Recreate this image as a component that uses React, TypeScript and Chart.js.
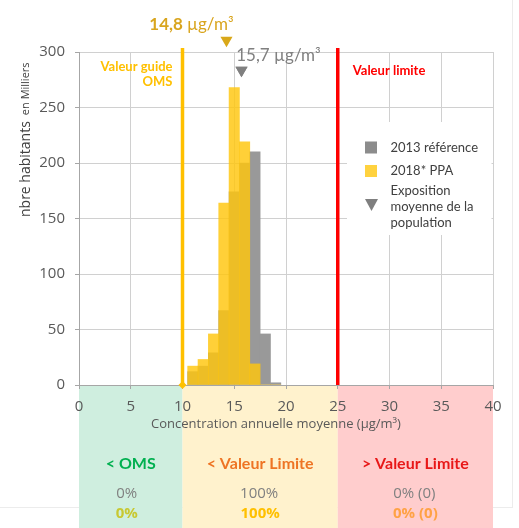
import React, { useEffect, useRef } from 'react';
import { Chart, registerables } from 'chart.js';

Chart.register(...registerables);

// ---- data ----
const BIN_CENTERS = [11, 12, 13, 14, 15, 16, 17, 18, 19];
const POP_2013 = [12, 17, 29, 67, 174, 200, 210, 46, 2];
const POP_2018 = [17, 23, 46, 164, 268, 219, 19, 0, 0];
const SERIES_NAMES = ['2013 référence', '2018* PPA'];
const MEAN_VALUES = ['14,8', '15,7'];
const MEAN_MARKER_X = [14.25, 15.7];
const MEAN_MARKER_Y = [310.5, 283.5];
const GUIDE_OMS = 10;
const LIMIT_VALUE = 25;
const THRESHOLD_TOP = 303.5;
const X_RANGE = [0, 40];
const X_STEP = 5;
const Y_RANGE = [0, 300];
const Y_STEP = 50;
const ZONE_EDGES = [0, 10, 25, 40];
const ZONE_TITLES = ['< OMS', '< Valeur Limite', '> Valeur Limite'];
const ZONE_SHARE_2013 = ['0%', '100%', '0% (0)'];
const ZONE_SHARE_2018 = ['0%', '100%', '0% (0)'];
const X_TITLE = 'Concentration annuelle moyenne (µg/m³)';
const Y_TITLE_MAIN = 'nbre habitants';
const Y_TITLE_SUB = 'en Milliers';
const LEGEND_EXPO = ['Exposition', 'moyenne de la', 'population'];

// ---- styles ----
const GRAY = '#999999';
const YELLOW = 'rgba(255,198,12,0.82)';
const AXIS_GRAY = '#a6a6a6';
const GRID_GRAY = '#d0d0d0';
const TEXT_GRAY = '#595959';

function txt(ctx: CanvasRenderingContext2D, s: string, x: number, y: number, font: string, color: string, align: CanvasTextAlign = 'center', baseline: CanvasTextBaseline = 'middle') {
  ctx.font = font;
  ctx.fillStyle = color;
  ctx.textAlign = align;
  ctx.textBaseline = baseline;
  ctx.fillText(s, x, y);
}

const decor = {
  id: 'decor',
  beforeDraw(chart: any) {
    const { ctx, chartArea: ca } = chart;
    const x = chart.scales.x;
    ctx.save();
    ctx.fillStyle = '#ffffff';
    ctx.fillRect(0, 0, chart.width, chart.height);
    ctx.strokeStyle = '#ececec';
    ctx.lineWidth = 1;
    ctx.beginPath();
    ctx.moveTo(0, 507.5);
    ctx.lineTo(513, 507.5);
    ctx.moveTo(512.5, 0);
    ctx.lineTo(512.5, 507.5);
    ctx.stroke();
    const bands = ['#CFEEDF', '#FFF2CD', '#FFCDCD'];
    for (let i = 0; i < 3; i++) {
      const x0 = x.getPixelForValue(ZONE_EDGES[i]);
      const x1 = x.getPixelForValue(ZONE_EDGES[i + 1]);
      ctx.fillStyle = bands[i];
      ctx.fillRect(x0, ca.bottom, x1 - x0, chart.height - ca.bottom);
    }
    ctx.restore();
  },
  afterDatasetsDraw(chart: any) {
    // mean-exposure markers may sit above the plot area: draw them unclipped
    const meta = chart.getDatasetMeta(0);
    const ctx = chart.ctx;
    ctx.save();
    meta.data.forEach((pt: any) => pt.draw(ctx));
    ctx.restore();
  },
  afterDraw(chart: any) {
    const { ctx, chartArea: ca } = chart;
    const x = chart.scales.x;
    const y = chart.scales.y;
    ctx.save();

    // y axis title
    ctx.save();
    ctx.translate(30, 217);
    ctx.rotate(-Math.PI / 2);
    ctx.font = '14px "Open Sans"';
    ctx.fillStyle = '#404040';
    ctx.textAlign = 'left';
    ctx.textBaseline = 'alphabetic';
    ctx.fillText(Y_TITLE_MAIN, 0, 0);
    const w = ctx.measureText(Y_TITLE_MAIN).width;
    ctx.font = '11px "Open Sans"';
    ctx.fillText(Y_TITLE_SUB, w + 6, -1);
    ctx.restore();

    // x axis title
    txt(ctx, X_TITLE, (ca.left + ca.right) / 2 - 10, 424, '13px "Open Sans"', TEXT_GRAY);

    // threshold labels
    const xo = x.getPixelForValue(GUIDE_OMS);
    const xl = x.getPixelForValue(LIMIT_VALUE);
    txt(ctx, 'Valeur guide', xo - 10, 67, 'bold 13px Lato', '#FFC000', 'right');
    txt(ctx, 'OMS', xo - 10, 82, 'bold 13px Lato', '#FFC000', 'right');
    txt(ctx, 'Valeur limite', xl + 15, 70.5, 'bold 13px Lato', '#FF0000', 'left');

    // mean labels
    const meanColors = ['#D9A51E', '#808080'];
    const offsets = [[-35, -16], [37, -15]];
    for (let i = 0; i < 2; i++) {
      const px = x.getPixelForValue(MEAN_MARKER_X[i]) + offsets[i][0];
      const py = y.getPixelForValue(MEAN_MARKER_Y[i]) + offsets[i][1];
      const f1 = (i === 0 ? 'bold ' : '') + '17px Lato';
      const f2 = '17px Lato';
      ctx.font = f1;
      const w1 = ctx.measureText(MEAN_VALUES[i] + ' ').width;
      ctx.font = f2;
      const w2 = ctx.measureText('µg/m³').width;
      const start = px - (w1 + w2) / 2;
      txt(ctx, MEAN_VALUES[i] + ' ', start, py, f1, meanColors[i], 'left');
      txt(ctx, 'µg/m³', start + w1, py, f2, meanColors[i], 'left');
    }

    // legend
    const lx = 347;
    ctx.fillStyle = '#ffffff';
    ctx.fillRect(lx, 122, ca.right - 1.5 - lx, 113);
    ctx.fillStyle = '#8c8c8c';
    ctx.fillRect(365, 141.5, 12, 12);
    txt(ctx, SERIES_NAMES[0], 390.5, 147.5, '13px Lato', '#404040', 'left');
    ctx.fillStyle = '#FFD23F';
    ctx.fillRect(365, 165, 12, 12);
    txt(ctx, SERIES_NAMES[1], 390.5, 170.5, '13px Lato', '#404040', 'left');
    ctx.fillStyle = '#7f7f7f';
    ctx.beginPath();
    ctx.moveTo(365, 199);
    ctx.lineTo(378, 199);
    ctx.lineTo(371.5, 211);
    ctx.closePath();
    ctx.fill();
    LEGEND_EXPO.forEach((s, i) => txt(ctx, s, 390.5, 190.5 + i * 16.3, '13px Lato', '#404040', 'left'));

    // zone texts
    const titleColors = ['#00B050', '#EE7424', '#E81818'];
    const row2Colors = ['#C8C832', '#FFC000', '#FFA245'];
    for (let i = 0; i < 3; i++) {
      const cx = (x.getPixelForValue(ZONE_EDGES[i]) + x.getPixelForValue(ZONE_EDGES[i + 1])) / 2;
      txt(ctx, ZONE_TITLES[i], cx, 464, 'bold 16px Lato', titleColors[i]);
      txt(ctx, ZONE_SHARE_2013[i], cx - (i === 0 ? 4 : 1), 494, '15px "Open Sans"', '#808080');
      txt(ctx, ZONE_SHARE_2018[i], cx - (i === 0 ? 4 : 0), 514, 'bold 15px "Open Sans"', row2Colors[i]);
    }
    ctx.restore();
  },
};

export default function App() {
  const ref = useRef<HTMLCanvasElement | null>(null);

  useEffect(() => {
    document.body.style.margin = '0';
    const canvas = ref.current;
    if (!canvas) return;
    const chart = new Chart(canvas, {
      type: 'bar',
      data: {
        datasets: [
          {
            type: 'scatter',
            data: MEAN_MARKER_X.map((v, i) => ({ x: v, y: MEAN_MARKER_Y[i] })),
            pointStyle: 'triangle',
            rotation: 180,
            radius: 7,
            pointBackgroundColor: ['#D9A81A', '#808080'],
            pointBorderWidth: 0,
            borderWidth: 0,
            clip: false,
            order: 0,
          } as any,
          {
            type: 'line',
            data: [{ x: GUIDE_OMS, y: 0 }, { x: GUIDE_OMS, y: THRESHOLD_TOP }],
            borderColor: '#FFC000',
            borderWidth: 3.5,
            pointRadius: [4, 0],
            pointStyle: 'rectRot',
            pointBackgroundColor: '#FFC000',
            pointBorderWidth: 0,
            clip: false,
            order: 1,
          } as any,
          {
            type: 'line',
            data: [{ x: LIMIT_VALUE, y: 0 }, { x: LIMIT_VALUE, y: THRESHOLD_TOP }],
            borderColor: '#FF0000',
            borderWidth: 3.5,
            pointRadius: 0,
            clip: false,
            order: 1,
          } as any,
          {
            type: 'bar',
            label: SERIES_NAMES[1],
            data: BIN_CENTERS.map((c, i) => ({ x: c, y: POP_2018[i] })),
            backgroundColor: YELLOW,
            borderWidth: 0,
            grouped: false,
            barPercentage: 1,
            categoryPercentage: 1,
            order: 2,
          } as any,
          {
            type: 'bar',
            label: SERIES_NAMES[0],
            data: BIN_CENTERS.map((c, i) => ({ x: c, y: POP_2013[i] })),
            backgroundColor: GRAY,
            borderWidth: 0,
            grouped: false,
            barPercentage: 1,
            categoryPercentage: 1,
            order: 3,
          } as any,
        ],
      },
      options: {
        responsive: false,
        animation: false,
        events: [],
        layout: { padding: { left: 0, right: 26, top: 52, bottom: 0 } },
        plugins: { legend: { display: false }, tooltip: { enabled: false } },
        scales: {
          x: {
            type: 'linear',
            min: X_RANGE[0],
            max: X_RANGE[1],
            offset: false,
            afterFit: (s: any) => { s.height = 143; },
            ticks: { stepSize: X_STEP, padding: 9, color: TEXT_GRAY, font: { family: 'Open Sans', size: 15 } },
            grid: { offset: false, color: GRID_GRAY, tickColor: AXIS_GRAY, tickLength: 4 },
            border: { color: AXIS_GRAY, width: 1 },
          },
          y: {
            type: 'linear',
            min: Y_RANGE[0],
            max: Y_RANGE[1],
            afterFit: (s: any) => { s.width = 79; },
            ticks: { stepSize: Y_STEP, padding: 10, color: TEXT_GRAY, font: { family: 'Open Sans', size: 15 } },
            grid: { color: GRID_GRAY, tickColor: AXIS_GRAY, tickLength: 4 },
            border: { color: AXIS_GRAY, width: 1 },
          },
        },
      } as any,
      plugins: [decor],
    });
    return () => chart.destroy();
  }, []);

  return (
    <div style={{ position: 'absolute', left: 0, top: 0, width: 519, height: 528, background: '#fff' }}>
      <canvas ref={ref} width={519} height={528} style={{ display: 'block' }} />
    </div>
  );
}
